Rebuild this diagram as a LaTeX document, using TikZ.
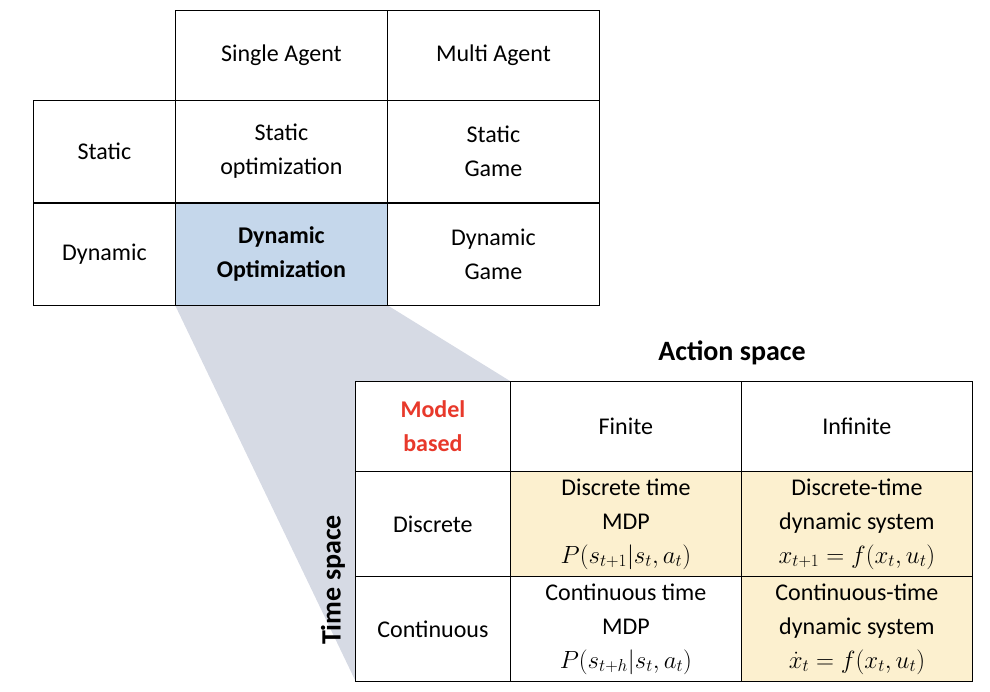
\documentclass[tikz,border=0pt]{standalone}
\usepackage{fontspec}
\setmainfont{Carlito}
\usepackage{amsmath}
\definecolor{cellblue}{HTML}{C5D7EB}
\definecolor{cellyellow}{HTML}{FCF0CF}
\definecolor{zoomgray}{HTML}{D6DAE4}
\definecolor{modelred}{HTML}{E8392B}
\tikzset{
  cell/.style={draw,thick,fill=white,anchor=north west,align=center,inner sep=0pt,
    font=\fontsize{24}{34}\selectfont},
  bigcell/.style={cell,minimum width=212pt,minimum height=102pt},
  lowcell/.style={cell,minimum width=231pt,minimum height=105pt},
}
\begin{document}
\begin{tikzpicture}[x=1pt,y=-1pt]
\useasboundingbox (0,0) rectangle (990,692);
% zoom wedge
\fill[zoomgray] (175,305) -- (387,305) -- (510,381) -- (355,680) -- cycle;

% top table
\node[bigcell,minimum width=142pt] (st) at (33,100) {Static};
\node[bigcell,minimum width=142pt] (dy) at (33,203) {Dynamic};
\node[bigcell,minimum height=90pt] (sa) at (175,10) {Single Agent};
\node[bigcell,minimum height=90pt] (ma) at (387,10) {Multi Agent};
\node[bigcell] (so) at (175,100) {Static\\optimization};
\node[bigcell] (sg) at (387,100) {Static\\Game};
\node[bigcell,fill=cellblue,font=\fontsize{24}{34}\selectfont\bfseries] (do) at (175,203) {Dynamic\\Optimization};
\node[bigcell] (dg) at (387,203) {Dynamic\\Game};

% bottom table
\node[lowcell,minimum width=155pt,minimum height=90pt,text=modelred,
  font=\fontsize{24}{34}\selectfont\bfseries] (mb) at (355,381) {Model\\based};
\node[lowcell,minimum height=90pt] (fi) at (510,381) {Finite};
\node[lowcell,minimum height=90pt] (in) at (741,381) {Infinite};
\node[lowcell,minimum width=155pt] (di) at (355,471) {Discrete};
\node[lowcell,fill=cellyellow] (dm) at (510,471)
  {Discrete time\\MDP\\$P(s_{t+1}|s_t,a_t)$};
\node[lowcell,fill=cellyellow] (ds) at (741,471)
  {Discrete-time\\dynamic system\\$x_{t+1}=f(x_t,u_t)$};
\node[lowcell,minimum width=155pt] (co) at (355,576) {Continuous};
\node[lowcell] (cm) at (510,576)
  {Continuous time\\MDP\\$P(s_{t+h}|s_t,a_t)$};
\node[lowcell,fill=cellyellow] (cs) at (741,576)
  {Continuous-time\\dynamic system\\$\dot{x}_t=f(x_t,u_t)$};

\node[font=\fontsize{28}{32}\selectfont\bfseries] (as) at (732,353) {Action space};
\node[font=\fontsize{28}{32}\selectfont\bfseries,rotate=90] (ts) at (333,580) {Time space};
\end{tikzpicture}
\end{document}
